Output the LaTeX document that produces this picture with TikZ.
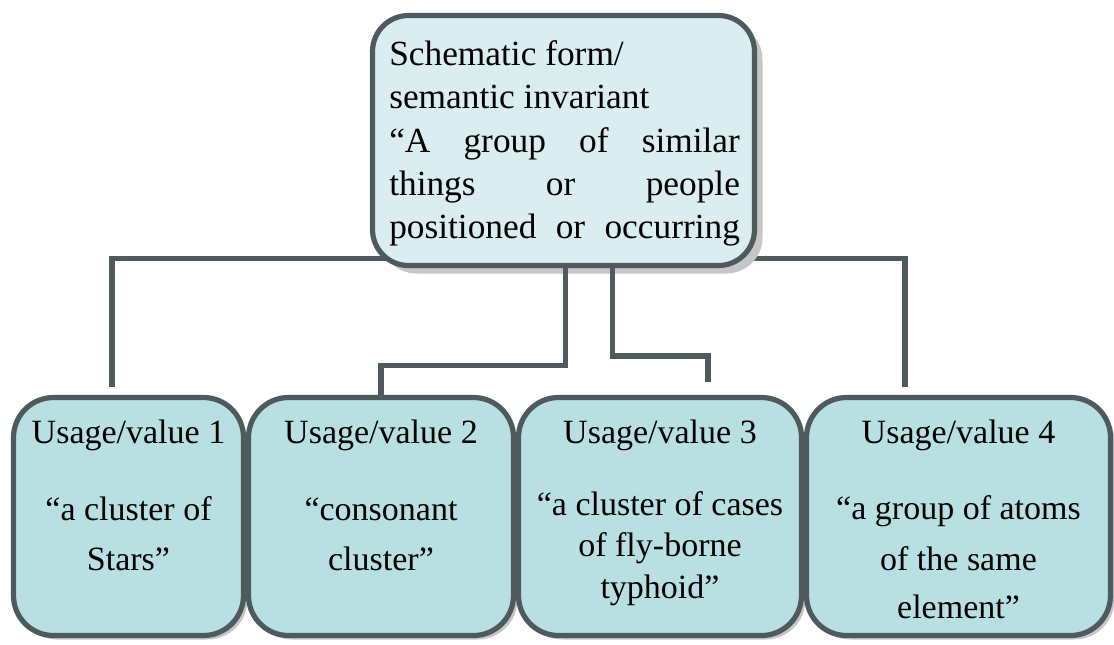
\documentclass[tikz,border=0pt]{standalone}
\usepackage{fontspec}
\setmainfont{Liberation Serif}
\usetikzlibrary{shadows,calc}
\pgfdeclarelayer{bg}
\pgfsetlayers{bg,main}
\definecolor{edgec}{HTML}{4E5B5D}
\definecolor{topfill}{HTML}{DAEDF0}
\definecolor{botfill}{HTML}{B8DFE2}
\tikzset{
 conn/.style={draw=edgec, line width=3.9pt},
 topbox/.style={draw=edgec, fill=topfill, line width=3.9pt, rounded corners=27pt,
   minimum width=382*0.75pt, minimum height=250*0.75pt, outer sep=0pt, inner sep=0pt,
   drop shadow={shadow xshift=6pt, shadow yshift=-6pt, fill=gray!45, opacity=1}},
 botbox/.style={draw=edgec, fill=botfill, line width=3.9pt, rounded corners=30pt,
   minimum height=238*0.75pt, outer sep=0pt, inner sep=0pt,
   drop shadow={shadow xshift=3pt, shadow yshift=-3pt, fill=gray!45, opacity=1}},
 txt/.style={font=\fontsize{25.5}{30}\selectfont, inner sep=0pt, anchor=base},
 ttxt/.style={txt, font=\fontsize{26.5}{31}\selectfont, anchor=base west},
}
\begin{document}
\begin{tikzpicture}[x=0.75pt,y=-0.75pt]
\useasboundingbox (0,0) rectangle (1114,644);
% top box
\node[topbox] (top) at (563.5,140.5) {};
\node[ttxt] (s1) at (389,65) {Schematic form/};
\node[ttxt] (s2) at (389,108) {semantic invariant};
\node[ttxt] (s3) at (389,152) {\makebox[263pt][s]{“A group of similar}};
\node[ttxt] (s4) at (389,195) {\makebox[263pt][s]{things or people}};
\node[ttxt] (s5) at (389,238) {\makebox[263pt][s]{positioned or occurring}};
% bottom boxes
\node[botbox, minimum width=230*0.75pt] (b1) at (128.5,516.5) {};
\node[botbox, minimum width=265*0.75pt] (b2) at (381,516.5) {};
\node[botbox, minimum width=283*0.75pt] (b3) at (660,516.5) {};
\node[botbox, minimum width=304*0.75pt] (b4) at (958.5,516.5) {};
% texts
\node[txt] (u1) at (128.5,443) {Usage/value 1};
\node[txt] (u1a) at (128.5,520) {“a cluster of};
\node[txt] (u1b) at (128.5,570) {Stars”};
\node[txt] (u2) at (381,443) {Usage/value 2};
\node[txt] (u2a) at (381,520) {“consonant};
\node[txt] (u2b) at (381,570) {cluster”};
\node[txt] (u3) at (660,443) {Usage/value 3};
\node[txt] (u3a) at (660,515) {“a cluster of cases};
\node[txt] (u3b) at (660,556) {of fly-borne};
\node[txt] (u3c) at (660,598) {typhoid”};
\node[txt] (u4) at (958.5,443) {Usage/value 4};
\node[txt] (u4a) at (958.5,519) {“a group of atoms};
\node[txt] (u4b) at (958.5,570) {of the same};
\node[txt] (u4c) at (958.5,618) {element”};
% connectors
\coordinate (e1) at (112,387);
\coordinate (e3) at (708,382);
\coordinate (e4) at (905,387);
\begin{pgfonlayer}{bg}
\draw[conn] ($(top.south)+(0,-7)$) -| (e1);
\draw[conn] ($(top.south)+(0,-7)$) -| (e4);
\end{pgfonlayer}
\draw[conn] ($(top.south)+(2,0)$) |- ($(b2.north)+(0,-32)$) -- (b2.north);
\draw[conn] ($(top.south)+(49,0)$) |- ($(e3)+(0,-26)$) -- (e3);
\end{tikzpicture}
\end{document}
